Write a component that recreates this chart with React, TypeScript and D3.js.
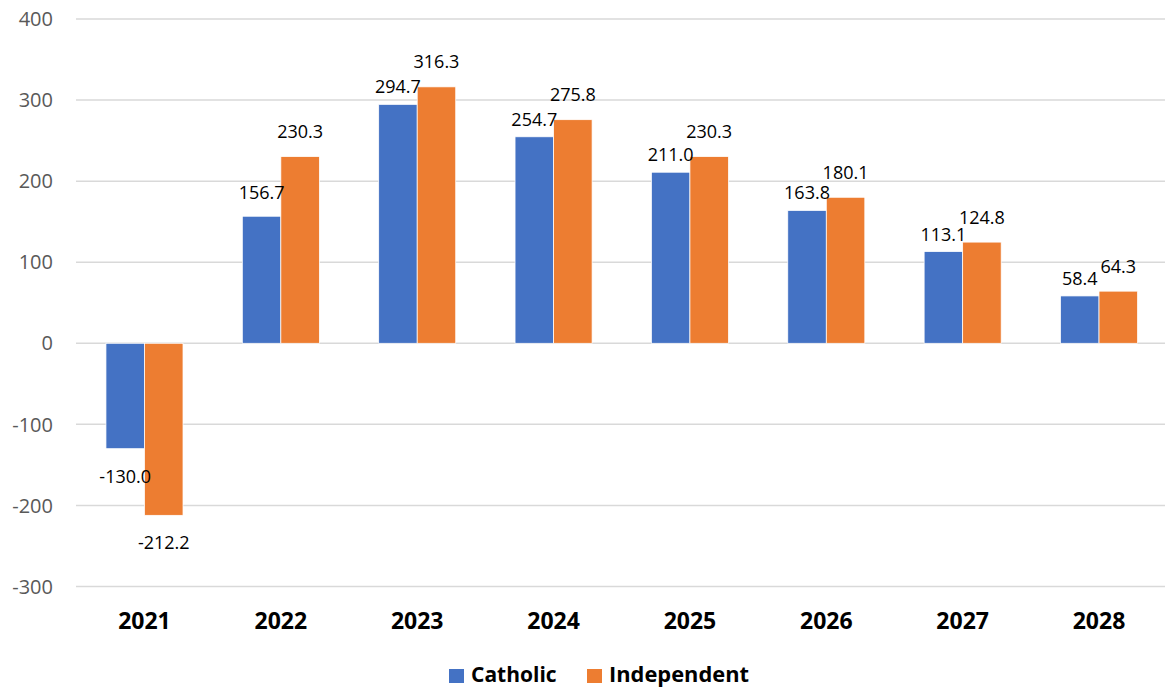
import React from "react";
import * as d3 from "d3";

const categories = ["2021", "2022", "2023", "2024", "2025", "2026", "2027", "2028"];
const catholic = [-130.0, 156.7, 294.7, 254.7, 211.0, 163.8, 113.1, 58.4];
const independent = [-212.2, 230.3, 316.3, 275.8, 230.3, 180.1, 124.8, 64.3];
const seriesNames = ["Catholic", "Independent"];
const yTicks = [-300, -200, -100, 0, 100, 200, 300, 400];

const W = 1165;
const H = 688;
const COLORS = ["#4472C4", "#ED7D31"];
const FONT = "'Open Sans', Lato, 'Liberation Sans', sans-serif";

export default function App() {
  const x = d3
    .scaleBand<string>()
    .domain(categories)
    .range([76.3, 1167.2])
    .paddingInner(0.435)
    .paddingOuter(0.2175);
  const xs = d3.scaleBand<string>().domain(seriesNames).range([0, x.bandwidth()]).padding(0);
  const y = d3.scaleLinear().domain([-300, 400]).range([586.5, 19]);

  const series = [catholic, independent];

  const bars: { key: string; bx: number; bw: number; v: number; s: number; i: number }[] = [];
  categories.forEach((c, i) => {
    series.forEach((vals, s) => {
      bars.push({
        key: c + s,
        bx: (x(c) as number) + (xs(seriesNames[s]) as number),
        bw: xs.bandwidth(),
        v: vals[i],
        s,
        i,
      });
    });
  });

  const labelY = (v: number, s: number, i: number) => {
    if (v < 0) return y(v) + 34;
    if (s === 1) return y(v) - 18.5;
    const diff = independent[i] - catholic[i];
    return y(v) - (diff > 50 ? 17 : 11);
  };

  return (
    <svg
      width={W}
      height={H}
      style={{ position: "absolute", left: 0, top: 0, background: "#fff" }}
      fontFamily={FONT}
    >
      {yTicks.map((t) => (
        <g key={t}>
          <line x1={76} x2={W} y1={y(t)} y2={y(t)} stroke="#d9d9d9" strokeWidth={1.5} />
          <text x={53} y={y(t)} dy="0.36em" textAnchor="end" fontSize={20} fill="#595959">
            {t}
          </text>
        </g>
      ))}
      {bars.map((b) => (
        <rect
          key={b.key}
          x={b.bx}
          y={Math.min(y(b.v), y(0))}
          width={b.bw}
          height={Math.abs(y(b.v) - y(0))}
          fill={COLORS[b.s]}
          stroke="#fff"
          strokeWidth={0.75}
        />
      ))}
      {bars.map((b) => (
        <text
          key={"l" + b.key}
          x={b.bx + b.bw / 2}
          y={labelY(b.v, b.s, b.i)}
          textAnchor="middle"
          fontSize={18}
          fill="#000"
        >
          {b.v.toFixed(1)}
        </text>
      ))}
      {categories.map((c) => (
        <text
          key={c}
          x={(x(c) as number) + x.bandwidth() / 2}
          y={629}
          textAnchor="middle"
          fontSize={23}
          fontWeight="bold"
          fill="#000"
        >
          {c}
        </text>
      ))}
      <g>
        <rect x={449} y={669} width={15} height={14} fill={COLORS[0]} />
        <text x={471} y={682} fontSize={21} fontWeight="bold" fill="#000">
          {seriesNames[0]}
        </text>
        <rect x={587} y={669} width={15} height={14} fill={COLORS[1]} />
        <text x={609} y={682} fontSize={21} fontWeight="bold" fill="#000" textLength={140} lengthAdjust="spacingAndGlyphs">
          {seriesNames[1]}
        </text>
      </g>
    </svg>
  );
}
